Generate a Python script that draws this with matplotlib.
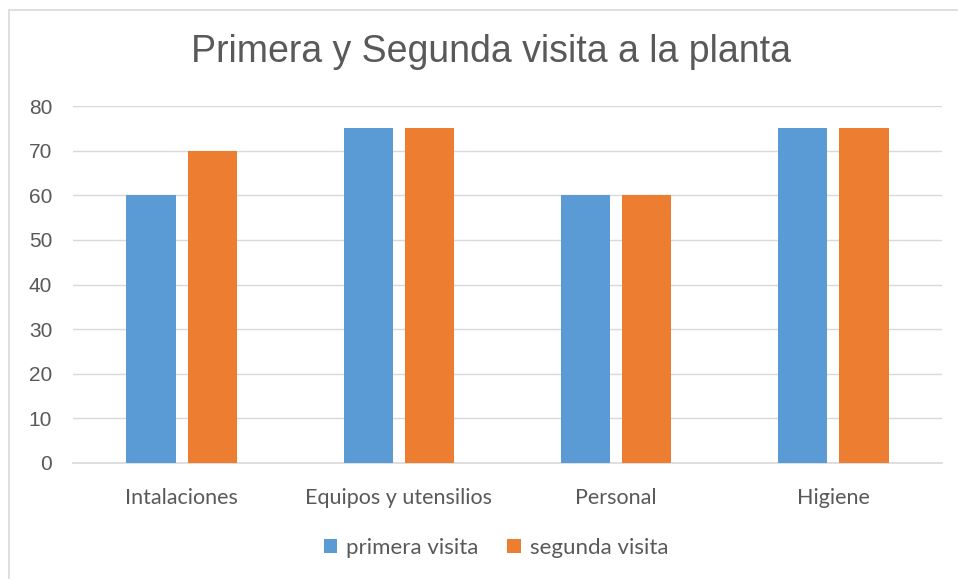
import numpy as np
import matplotlib.pyplot as plt
from matplotlib.patches import Rectangle

categorias = ["Intalaciones", "Equipos y utensilios", "Personal", "Higiene"]
primera_visita = [60, 75, 60, 75]
segunda_visita = [70, 75, 60, 75]
yticks = [0, 10, 20, 30, 40, 50, 60, 70, 80]

azul = "#5b9bd5"
naranja = "#ed7d31"
gris = "#595959"

fig = plt.figure(figsize=(9.58, 5.79), dpi=100)
ax = fig.add_axes([73 / 958, 1 - 463 / 579, 869 / 958, 357 / 579])

# borde del grafico
fig.patches.append(Rectangle((9 / 958, -0.01), 1.0, 1 - 10 / 579 + 0.01,
                             transform=fig.transFigure, fill=False,
                             edgecolor="#d9d9d9", linewidth=1.2))

x = np.arange(len(categorias))
ancho = 0.226
ax.bar(x - 0.141, primera_visita, ancho, color=azul, label="primera visita", zorder=3)
ax.bar(x + 0.141, segunda_visita, ancho, color=naranja, label="segunda visita", zorder=3)

ax.set_xlim(-0.5, len(categorias) - 0.5)
ax.set_ylim(0, 80)
ax.set_yticks(yticks)
ax.set_xticks(x)
ax.set_xticklabels(categorias, family="Lato", fontsize=15.5, color=gris)
for lbl in ax.get_yticklabels():
    lbl.set_family("Liberation Sans")
    lbl.set_fontsize(15)
    lbl.set_color(gris)

ax.grid(axis="y", color="#d9d9d9", linewidth=1, zorder=0)
ax.tick_params(length=0)
ax.tick_params(axis="y", pad=15)
ax.tick_params(axis="x", pad=18)
for s in ["top", "right", "left"]:
    ax.spines[s].set_visible(False)
ax.spines["bottom"].set_color("#d9d9d9")
ax.spines["bottom"].set_linewidth(1.2)

fig.text(491 / 958, 1 - 52 / 579, "Primera y Segunda visita a la planta",
         ha="center", va="center", fontsize=27, color=gris, family="Liberation Sans")

leg = fig.legend(loc="center", bbox_to_anchor=(496 / 958, 1 - 548 / 579), ncol=2,
                 frameon=False, prop={"family": "Lato", "size": 16},
                 handlelength=0.6, handleheight=0.6, handletextpad=0.4, columnspacing=1.3)
for t in leg.get_texts():
    t.set_color(gris)

fig.savefig("out.png", dpi=100)
